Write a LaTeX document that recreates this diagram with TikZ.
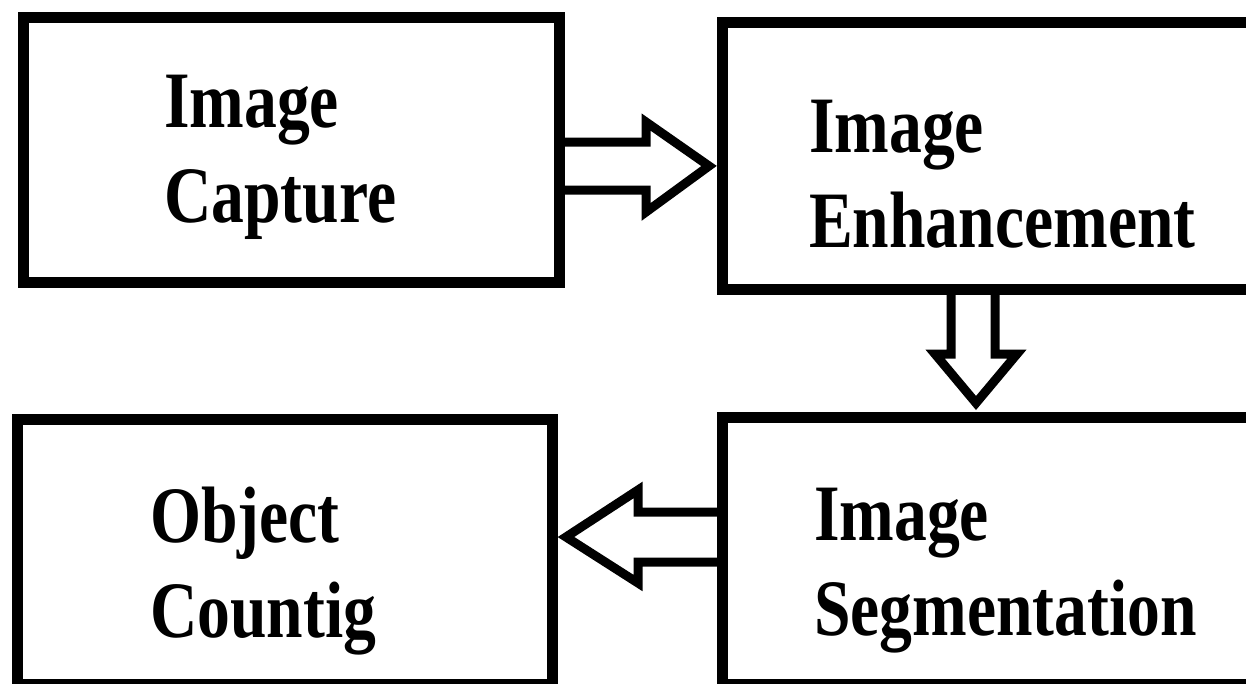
\documentclass[tikz,border=0pt]{standalone}
\usepackage{fontspec}
\setmainfont{Liberation Serif}[FakeStretch=0.82]
\usetikzlibrary{calc,positioning}

\begin{document}
\begin{tikzpicture}[x=1pt,y=-1pt,
		box/.style={draw,line width=11pt,outer sep=0pt,inner sep=0pt},
		lbl/.style={anchor=north west,align=left,inner sep=0pt,font=\fontsize{80}{95}\selectfont\bfseries},
		blk/.style={draw,line width=9pt,line join=miter}]
		\useasboundingbox (0,0) rectangle (1246,683);
		\clip (0,0) rectangle (1246,683);
		% the four boxes
		\node[box,minimum width=536,minimum height=265] (cap) at (291,150) {};
		\node[box,minimum width=578,minimum height=266.5] (enh) at (1011,155.75) {};
		\node[box,minimum width=578,minimum height=266.5] (seg) at (1011,550.75) {};
		\node[box,minimum width=535.5,minimum height=265] (obj) at (284.75,551.5) {};
		\node[lbl] (capt) at ($(cap.north west)+(141,57.5)$) {Image\\Capture};
		\node[lbl] (enht) at ($(enh.north west)+(87,77.5)$) {Image\\Enhancement};
		\node[lbl] (segt) at ($(seg.north west)+(92,70.5)$) {Image\\Segmentation};
		\node[lbl] (objt) at ($(obj.north west)+(133,68)$) {Object\\Countig};
		% hollow block arrows
		\draw[blk] (cap.east |- 0,142) -- (646,142) -- (646,122) -- ($(enh.west |- 0,166)+(-13,0)$)
			-- (646,212) -- (646,190) -- (cap.east |- 0,190);
		\draw[blk] (enh.south -| 951,0) -- (951,354) -- (935,354) -- ($(seg.north -| 976,0)+(0,-14.5)$)
			-- (1017,354) -- (995,354) -- (enh.south -| 995,0);
		\draw[blk] (seg.west |- 0,512) -- (638,512) -- (638,490) -- ($(obj.east |- 0,537)+(13.5,0)$)
			-- (638,583) -- (638,562) -- (seg.west |- 0,562);
	\end{tikzpicture}
\end{document}
